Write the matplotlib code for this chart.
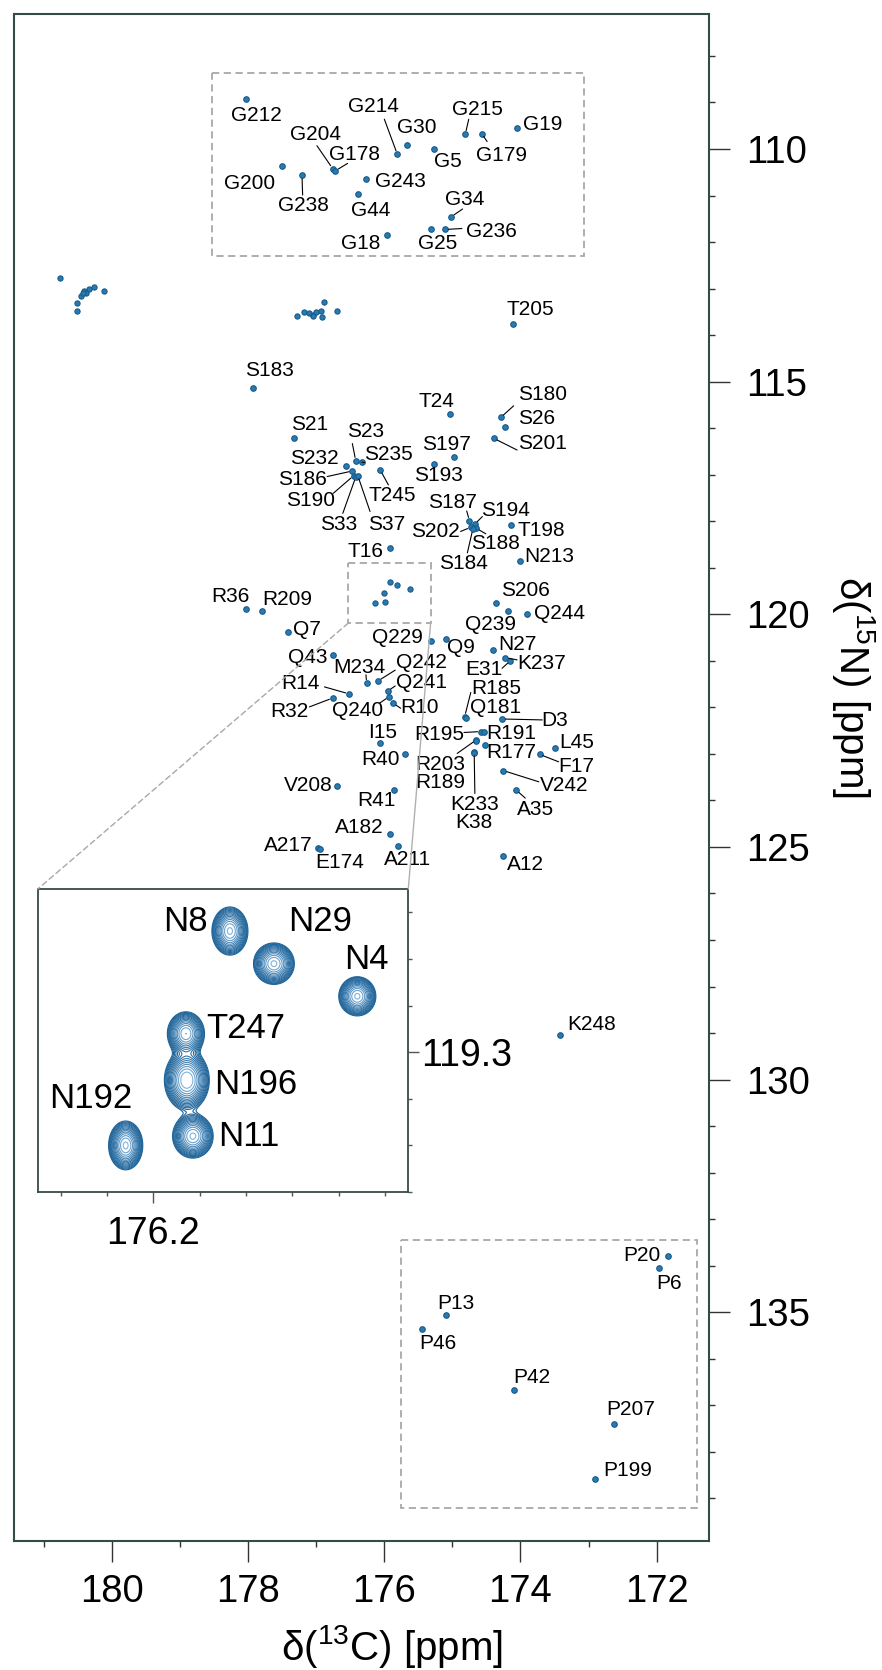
import numpy as np
import matplotlib
matplotlib.use('Agg')
import matplotlib.pyplot as plt
from matplotlib.patches import Rectangle, ConnectionPatch
from matplotlib.colors import LinearSegmentedColormap

plt.rcParams['font.family'] = ['Liberation Sans', 'DejaVu Sans']
plt.rcParams['mathtext.fontset'] = 'custom'
plt.rcParams['mathtext.rm'] = 'Liberation Sans'
plt.rcParams['mathtext.default'] = 'regular'

# assigned cross peaks: residue, 13C shift, 15N shift
peak_names = ['G212', 'G214', 'G30', 'G215', 'G179', 'G19', 'G5', 'G204', 'G178', 'G200',
              'G238', 'G243', 'G44', 'G34', 'G25', 'G236', 'G18', 'T205', 'S183', 'T24',
              'S180', 'S26', 'S201', 'S21', 'S23', 'S235', 'S232', 'S186', 'S190', 'S33',
              'S37', 'T245', 'S197', 'S193', 'S187', 'S194', 'S202', 'S188', 'S184', 'T198',
              'N213', 'T16', 'R36', 'R209', 'Q7', 'S206', 'Q239', 'Q244', 'Q229', 'Q9',
              'N27', 'K237', 'E31', 'Q43', 'M234', 'Q242', 'Q241', 'R14', 'R32', 'Q240',
              'R10', 'R185', 'Q181', 'D3', 'R195', 'R191', 'R203', 'R189', 'R177', 'K233',
              'K38', 'L45', 'F17', 'V242', 'A35', 'I15', 'R40', 'V208', 'R41', 'A182',
              'A211', 'A217', 'E174', 'A12', 'K248', 'P20', 'P6', 'P13', 'P46', 'P42',
              'P207', 'P199']
peak_c = [178.03, 175.81, 175.66, 174.81, 174.57, 174.05, 175.27, 176.76, 176.72, 177.51,
          177.21, 176.27, 176.39, 175.02, 175.32, 175.11, 175.96, 174.11, 177.93, 175.04,
          174.29, 174.23, 174.39, 177.33, 176.42, 176.33, 176.56, 176.47, 176.45, 176.42,
          176.39, 176.06, 174.98, 175.27, 174.75, 174.67, 174.73, 174.65, 174.70, 174.14,
          174.01, 175.92, 178.03, 177.79, 177.42, 174.36, 174.18, 173.90, 175.32, 175.10,
          174.40, 174.22, 174.15, 176.75, 176.26, 176.09, 175.95, 176.52, 176.76, 175.93,
          175.87, 174.82, 174.80, 174.27, 174.58, 174.54, 174.65, 174.66, 174.52, 174.68,
          174.69, 173.50, 173.72, 174.25, 174.06, 176.07, 175.69, 176.69, 175.86, 175.92,
          175.80, 176.97, 176.95, 174.25, 173.42, 171.83, 171.97, 175.09, 175.45, 174.10,
          172.62, 172.90]
peak_n = [108.92, 110.11, 109.92, 109.68, 109.67, 109.56, 110.00, 110.42, 110.47, 110.37,
          110.56, 110.64, 110.97, 111.46, 111.71, 111.73, 111.84, 113.76, 115.13, 115.69,
          115.77, 115.97, 116.22, 116.22, 116.70, 116.73, 116.81, 116.92, 117.02, 117.05,
          117.02, 116.90, 116.61, 116.76, 117.99, 118.06, 118.13, 118.15, 118.17, 118.08,
          118.85, 118.58, 119.89, 119.94, 120.37, 119.75, 119.94, 119.99, 120.57, 120.53,
          120.77, 120.93, 121.00, 120.87, 121.48, 121.43, 121.65, 121.71, 121.80, 121.77,
          121.91, 122.20, 122.22, 122.25, 122.52, 122.53, 122.70, 122.72, 122.81, 122.97,
          122.99, 122.88, 123.01, 123.36, 123.78, 122.76, 123.01, 123.69, 123.78, 124.73,
          124.97, 125.03, 125.05, 125.19, 129.04, 133.79, 134.04, 135.06, 135.35, 136.66,
          137.40, 138.58]

# label centres (13C, 15N)
label_pos = {
    'G212': (177.88, 109.27), 'G214': (176.16, 109.08), 'G30': (175.52, 109.53),
    'G215': (174.63, 109.16), 'G179': (174.28, 110.13), 'G19': (173.68, 109.48),
    'G5': (175.07, 110.27), 'G204': (177.01, 109.68), 'G178': (176.44, 110.11),
    'G200': (177.98, 110.74), 'G238': (177.19, 111.22), 'G243': (175.77, 110.70),
    'G44': (176.20, 111.33), 'G34': (174.82, 111.08), 'G25': (175.22, 112.04),
    'G236': (174.43, 111.78), 'G18': (176.34, 112.04), 'T205': (173.85, 113.46),
    'S183': (177.69, 114.76), 'T24': (175.24, 115.43), 'S180': (173.67, 115.27),
    'S26': (173.76, 115.80), 'S201': (173.68, 116.33), 'S21': (177.10, 115.92),
    'S23': (176.28, 116.08), 'S235': (175.94, 116.56), 'S232': (177.03, 116.65),
    'S186': (177.20, 117.11), 'S190': (177.09, 117.56), 'S33': (176.67, 118.07),
    'S37': (175.96, 118.07), 'T245': (175.89, 117.45), 'S197': (175.08, 116.35),
    'S193': (175.20, 117.02), 'S187': (175.00, 117.59), 'S194': (174.22, 117.76),
    'S202': (175.25, 118.22), 'S188': (174.37, 118.47), 'S184': (174.84, 118.90),
    'T198': (173.70, 118.19), 'N213': (173.57, 118.75), 'T16': (176.27, 118.64),
    'R36': (178.26, 119.62), 'R209': (177.42, 119.68), 'Q7': (177.14, 120.32),
    'S206': (173.92, 119.49), 'Q239': (174.44, 120.23), 'Q244': (173.43, 119.99),
    'Q229': (175.81, 120.49), 'Q9': (174.87, 120.71), 'N27': (174.05, 120.65),
    'K237': (173.69, 121.05), 'E31': (174.54, 121.18), 'Q43': (177.13, 120.92),
    'M234': (176.36, 121.14), 'Q242': (175.45, 121.04), 'Q241': (175.46, 121.46),
    'R14': (177.23, 121.48), 'R32': (177.39, 122.09), 'Q240': (176.39, 122.07),
    'R10': (175.48, 122.00), 'R185': (174.35, 121.59), 'Q181': (174.37, 122.00),
    'D3': (173.50, 122.29), 'R195': (175.20, 122.59), 'R191': (174.13, 122.56),
    'R203': (175.18, 123.22), 'R189': (175.18, 123.61), 'R177': (174.13, 122.97),
    'K233': (174.68, 124.08), 'K38': (174.68, 124.48), 'L45': (173.18, 122.75),
    'F17': (173.18, 123.27), 'V242': (173.36, 123.69), 'A35': (173.78, 124.19),
    'I15': (176.03, 122.53), 'R40': (176.06, 123.11), 'V208': (177.11, 123.69),
    'R41': (176.11, 124.00), 'A182': (176.37, 124.59), 'A211': (175.66, 125.26),
    'A217': (177.41, 124.97), 'E174': (176.65, 125.33), 'A12': (173.92, 125.37),
    'K248': (172.96, 128.81), 'P20': (172.22, 133.77), 'P6': (171.82, 134.39),
    'P13': (174.95, 134.82), 'P46': (175.21, 135.67), 'P42': (173.84, 136.41),
    'P207': (172.38, 137.09), 'P199': (172.43, 138.39),
}

# leader lines start points (13C, 15N)
leader_from = {
    'G214': (176.00, 109.36), 'G215': (174.76, 109.36), 'G179': (174.49, 109.84),
    'G204': (176.99, 109.93), 'G178': (176.54, 110.31), 'G238': (177.20, 110.99),
    'G34': (174.85, 111.29), 'G236': (174.86, 111.71), 'S180': (174.10, 115.52),
    'S201': (174.05, 116.47), 'S23': (176.47, 116.33), 'S235': (176.29, 116.74),
    'S186': (176.84, 117.04), 'S190': (176.75, 117.40), 'S33': (176.61, 117.83),
    'S37': (176.21, 117.79), 'T245': (175.94, 117.22), 'S187': (174.79, 117.78),
    'S194': (174.56, 117.90), 'S202': (174.88, 118.22), 'S188': (174.51, 118.27),
    'S184': (174.78, 118.68), 'M234': (176.27, 121.30), 'Q242': (175.84, 121.20),
    'Q241': (175.84, 121.54), 'R14': (176.88, 121.56), 'R32': (177.10, 121.99),
    'Q240': (176.07, 121.91), 'R10': (175.76, 122.02), 'K237': (174.05, 120.98),
    'E31': (174.27, 121.16), 'R185': (174.73, 121.68), 'D3': (173.68, 122.27),
    'R195': (174.83, 122.54), 'R203': (174.93, 122.99), 'K233': (174.67, 123.85),
    'F17': (173.44, 123.17), 'V242': (173.73, 123.60), 'A35': (173.93, 123.95),
}

# unassigned peaks
extra_c = [180.76, 180.41, 180.34, 180.27, 180.12, 180.45, 180.38, 180.52, 180.51, 180.42,
           176.88, 177.29, 177.18, 177.11, 177.05, 177.00, 176.93, 176.92, 176.70, 177.05,
           175.91, 175.81, 175.63, 176.00, 176.13, 175.99]
extra_n = [112.78, 113.05, 113.00, 112.97, 113.05, 113.16, 113.10, 113.32, 113.48, 113.09,
           113.28, 113.59, 113.50, 113.53, 113.57, 113.50, 113.48, 113.62, 113.49, 113.60,
           119.31, 119.38, 119.46, 119.55, 119.76, 119.73]

# inset (asparagine region): residue, 13C, 15N, relative height, widths
inset_names = ['N8', 'N29', 'N4', 'T247', 'N196', 'N11', 'N192']
inset_c = [176.035, 175.94, 175.76, 176.13, 176.128, 176.115, 176.26]
inset_n = [119.04, 119.11, 119.18, 119.26, 119.36, 119.48, 119.50]
inset_amp = [1.0, 1.0, 1.0, 0.95, 1.15, 1.0, 1.0]
inset_sc = [0.0173, 0.0196, 0.0178, 0.018, 0.021, 0.0195, 0.0164]
inset_sn = [0.023, 0.0198, 0.0187, 0.021, 0.028, 0.021, 0.0233]
inset_label_pos = {
    'N8': (176.13, 119.02), 'N29': (175.84, 119.02), 'N4': (175.74, 119.10),
    'T247': (176.00, 119.25), 'N196': (175.98, 119.37), 'N11': (175.995, 119.48),
    'N192': (176.335, 119.40),
}

FRAME = '#364a4a'
PEAK = '#1f6b9e'

fig = plt.figure(figsize=(8.82, 16.70), dpi=100)
ax = fig.add_axes([0.0159, 0.0774, 0.7876, 0.9142])
ax.set_xlim(181.44, 171.235)
ax.set_ylim(139.91, 107.1)

ax.scatter(peak_c, peak_n, s=16, marker='o', facecolor='#2a7ab2', edgecolor='#175a8a',
           linewidths=0.8, zorder=3)
ax.scatter(extra_c, extra_n, s=14, marker='o', facecolor='#2a7ab2', edgecolor='#175a8a',
           linewidths=0.8, zorder=3)

for name, c, n in zip(peak_names, peak_c, peak_n):
    tx, ty = label_pos[name]
    ax.text(tx, ty, name, fontsize=15, ha='center', va='center', zorder=4)
    if name in leader_from:
        ax.annotate('', xy=(c, n), xytext=leader_from[name],
                    arrowprops=dict(arrowstyle='-', color='black', lw=0.8,
                                    shrinkA=0, shrinkB=2.5), zorder=4)

box_style = dict(fill=False, ls=(0, (4, 2.5)), ec='#a8a8a8', lw=1.3, zorder=2)
ax.add_patch(Rectangle((178.53, 108.37), 173.07 - 178.53, 112.31 - 108.37, **box_style))
ax.add_patch(Rectangle((176.53, 118.90), 175.32 - 176.53, 120.19 - 118.90, **box_style))
ax.add_patch(Rectangle((175.75, 133.45), 171.40 - 175.75, 139.21 - 133.45, **box_style))

for sp in ax.spines.values():
    sp.set_color(FRAME)
    sp.set_linewidth(1.5)
ax.xaxis.set_ticks_position('bottom')
ax.yaxis.set_ticks_position('right')
ax.set_xticks([180, 178, 176, 174, 172])
ax.set_xticks(np.arange(172, 182, 1.0), minor=True)
ax.set_yticks([110, 115, 120, 125, 130, 135])
ax.set_yticks(np.arange(108, 140, 1.0), minor=True)
ax.tick_params(axis='x', which='major', direction='out', length=15, width=1, color='#333333',
               labelsize=27.5, pad=9)
ax.tick_params(axis='x', which='minor', direction='out', length=4.5, width=1, color='#333333')
ax.tick_params(axis='y', which='major', direction='out', length=15, width=1, color='#333333',
               labelsize=27.5, pad=12, labelright=True, labelleft=False)
ax.tick_params(axis='y', which='minor', direction='out', length=4.5, width=1, color='#333333')

fig.text(0.4444, 0.0138, r'δ($^{13}$C) [ppm]', fontsize=29, ha='center', va='center')
fig.text(0.968, 0.5886, r'δ($^{15}$N) [ppm]', fontsize=29, ha='center', va='center',
         rotation=270)

# inset
axi = fig.add_axes([0.0427, 0.2862, 0.4202, 0.1814])
axi.set_xlim(176.45, 175.65)
axi.set_ylim(119.6, 118.95)
gc = np.linspace(176.45, 175.65, 420)
gn = np.linspace(118.95, 119.6, 420)
GC, GN = np.meshgrid(gc, gn)
Z = np.zeros_like(GC)
for c, n, a, sc, sn in zip(inset_c, inset_n, inset_amp, inset_sc, inset_sn):
    Z += a * np.exp(-0.5 * (((GC - c) / sc) ** 2 + ((GN - n) / sn) ** 2))
levels = np.geomspace(0.08, 0.95, 15)
cmap = LinearSegmentedColormap.from_list('nmr', ['#1d6297', '#7fb3dc'])
axi.contour(GC, GN, Z, levels=levels, cmap=cmap, linewidths=0.8)
for name in inset_names:
    tx, ty = inset_label_pos[name]
    axi.text(tx, ty, name, fontsize=25, ha='center', va='center')

for sp in axi.spines.values():
    sp.set_color(FRAME)
    sp.set_linewidth(1.3)
axi.xaxis.set_ticks_position('bottom')
axi.yaxis.set_ticks_position('right')
axi.set_xticks([176.2])
axi.set_xticklabels(['176.2'])
axi.set_xticks(np.arange(175.7, 176.45, 0.1), minor=True)
axi.set_yticks([119.3])
axi.set_yticklabels(['119.3'])
axi.set_yticks(np.arange(119.0, 119.65, 0.1), minor=True)
axi.tick_params(axis='x', which='major', direction='out', length=8, width=1, color='#555555',
                labelsize=27, pad=9)
axi.tick_params(axis='x', which='minor', direction='out', length=3, width=1, color='#555555')
axi.tick_params(axis='y', which='major', direction='out', length=8, width=1, color='#555555',
                labelsize=27, pad=1, labelright=True, labelleft=False)
axi.tick_params(axis='y', which='minor', direction='out', length=3, width=1, color='#555555')

# zoom connectors
con1 = ConnectionPatch(xyA=(176.53, 120.19), coordsA=ax.transData,
                       xyB=(0, 1), coordsB=axi.transAxes,
                       color='#a8a8a8', lw=1.0, ls=(0, (4, 2.5)))
con2 = ConnectionPatch(xyA=(175.32, 120.19), coordsA=ax.transData,
                       xyB=(1, 1), coordsB=axi.transAxes,
                       color='#b0b0b0', lw=1.0)
fig.add_artist(con1)
fig.add_artist(con2)

fig.savefig('out.png', dpi=100)
